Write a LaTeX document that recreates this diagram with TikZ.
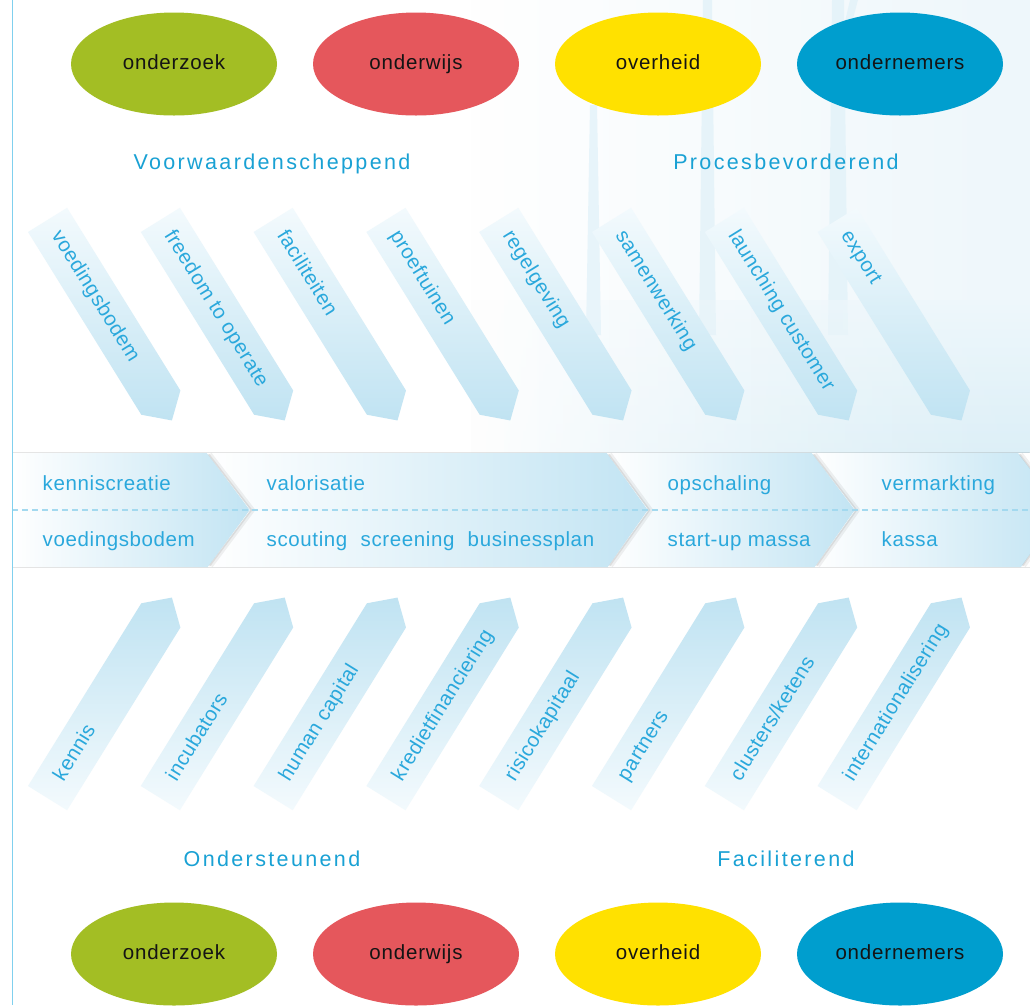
\documentclass[tikz,border=0pt]{standalone}
\usepackage{fontspec}
\setmainfont{Liberation Sans}
\newfontfamily\ellfont[LetterSpace=4]{Liberation Sans}
\newfontfamily\headfont[LetterSpace=11]{Liberation Sans}
\newfontfamily\bandfont[LetterSpace=3]{Liberation Sans}
\newfontfamily\arrfont[LetterSpace=2]{Liberation Sans}
\usetikzlibrary{calc,fadings,shapes.geometric}
\definecolor{ogreen}{HTML}{A3BE24}
\definecolor{ored}{HTML}{E5575C}
\definecolor{oyellow}{HTML}{FFE100}
\definecolor{oblue}{HTML}{009ECE}
\definecolor{headblue}{HTML}{19A1D4}
\definecolor{txtblue}{HTML}{2AA8DC}
\definecolor{arrlight}{HTML}{F3FAFD}
\definecolor{arrdark}{HTML}{C0E3F2}
\definecolor{segblue}{HTML}{C2E4F3}
\definecolor{dashblue}{HTML}{A3D9EF}
\definecolor{lineblue}{HTML}{80D0EE}
\definecolor{washblue}{HTML}{EEF7FB}
\definecolor{waterblue}{HTML}{DCEFF7}
\definecolor{towerblue}{HTML}{E2F2F9}
\tikzfading[name=fadein, left color=transparent!100, right color=transparent!0]
\begin{document}
\begin{tikzpicture}[x=1pt,y=1pt,
  ell/.style={ellipse, minimum width=206pt, minimum height=103pt, inner sep=0pt,
    text=black!92, font=\ellfont\fontsize{20.5}{24}\selectfont, text height=15pt, text depth=4pt},
  head/.style={text=headblue, font=\headfont\fontsize{21.5}{26}\selectfont, inner sep=0pt, anchor=base},
  toparr/.style={top color=arrlight, bottom color=arrdark},
  botarr/.style={top color=arrdark, bottom color=arrlight},
  arrtext/.style={text=txtblue, font=\arrfont\fontsize{20.5}{24}\selectfont, inner sep=0pt,
    anchor=west, text height=15pt, text depth=4.5pt},
  seg/.style={left color=white, right color=segblue},
  bandtext/.style={text=txtblue, font=\bandfont\fontsize{20.5}{24}\selectfont, inner sep=0pt, anchor=base west},
  chevshadow/.style={draw=black, opacity=0.06, line width=4pt, line join=round},
  chevshadowin/.style={draw=black, opacity=0.08, line width=1.5pt, line join=round},
  bandedge/.style={draw=black, opacity=0.10, line width=1.5pt},
  dashline/.style={draw=dashblue, line width=1.2pt, dash pattern=on 6pt off 4pt},
  leftline/.style={draw=lineblue, line width=1.5pt},
  tower/.style={fill=towerblue, opacity=0.8}
]
\useasboundingbox (0,0) rectangle (1030,-1005);
\fill[white] (0,0) rectangle (1030,-1005);

% background: faint wind park and water
\fill[washblue, path fading=fadein] (470,0) rectangle (1030,-452);
\fill[tower] (590,-105) -- (597,-105) -- (601,-335) -- (586,-335) -- cycle;
\fill[tower] (703,0) -- (712,0) -- (716,-335) -- (699,-335) -- cycle;
\fill[tower] (832,0) -- (844,0) -- (848,-335) -- (828,-335) -- cycle;
\fill[tower] (850,0) -- (858,0) -- (842,-60) -- (836,-60) -- cycle;
\shade[top color=washblue, bottom color=waterblue, path fading=fadein] (470,-300) rectangle (1030,-452);

% top ellipses
\node[ell, fill=ogreen]  (e1) at (174,-64) {onderzoek};
\node[ell, fill=ored]    (e2) at (416,-64) {onderwijs};
\node[ell, fill=oyellow] (e3) at (658,-64) {overheid};
\node[ell, fill=oblue]   (e4) at (900,-64) {ondernemers};

% headings
\node[head] (h1) at (272,-169) {Voorwaardenscheppend};
\node[head] (h2) at (786,-169) {Procesbevorderend};
\node[head] (h3) at (272,-866.5) {Ondersteunend};
\node[head] (h4) at (786,-866.5) {Faciliterend};

% top arrows
\foreach \i/\t in {0/voedingsbodem,1/freedom to operate,2/faciliteiten,3/proeftuinen,
                   4/regelgeving,5/samenwerking,6/launching customer,7/export}{
  \coordinate (o) at ({28+112.8*\i},-232);
  \shade[toparr] (o) -- ($(o)+(-58.2:215)$) -- ($(o)+(-58.2:236)+(31.8:23)$)
     -- ($(o)+(-58.2:215)+(31.8:46)$) -- ($(o)+(31.8:46)$) -- cycle;
  \node[arrtext, rotate=-58.2] (ta\i) at ($(o)+(-58.2:15)+(31.8:23)$) {\t};
}

% bottom arrows
\foreach \i/\t in {0/kennis,1/incubators,2/human capital,3/kredietfinanciering,
                   4/risicokapitaal,5/partners,6/clusters\slash ketens,7/internationalisering}{
  \coordinate (o) at ({28+112.8*\i},-786);
  \shade[botarr] (o) -- ($(o)+(58.2:215)$) -- ($(o)+(58.2:236)+(-31.8:23)$)
     -- ($(o)+(58.2:215)+(-31.8:46)$) -- ($(o)+(-31.8:46)$) -- cycle;
  \node[arrtext, rotate=58.2] (tb\i) at ($(o)+(58.2:22)+(-31.8:23)$) {\t};
}

% process band
\shade[seg] (12,-453) -- (207,-453) -- (250,-510) -- (208,-567) -- (12,-567) -- cycle;
\shade[seg] (207,-453) -- (607,-453) -- (648,-510) -- (608,-567) -- (208,-567) -- (250,-510) -- cycle;
\shade[seg] (607,-453) -- (812,-453) -- (855,-510) -- (815,-567) -- (608,-567) -- (648,-510) -- cycle;
\shade[seg] (812,-453) -- (1018,-453) -- (1061,-510) -- (1021,-567) -- (815,-567) -- (855,-510) -- cycle;
\foreach \a/\b/\c in {207/250/208, 607/648/608, 812/855/815, 1018/1061/1021}{
  \draw[chevshadow] (\a+3,-454) -- (\b+3,-510) -- (\c+3,-566);
  \draw[chevshadowin] (\a+1.5,-454) -- (\b+1.5,-510) -- (\c+1.5,-566);
}
\draw[bandedge] (12,-452.5) -- (1030,-452.5);
\draw[bandedge] (12,-567.5) -- (1030,-567.5);
\draw[dashline] (12,-510) -- (1030,-510);

\node[bandtext] (b1) at (42.5,-490.5) {kenniscreatie};
\node[bandtext] (b2) at (42.5,-546.5) {voedingsbodem};
\node[bandtext] (b3) at (266.5,-490.5) {valorisatie};
\node[bandtext] (b4) at (266.5,-546.5) {scouting\hspace{7pt} screening\hspace{7pt} businessplan};
\node[bandtext] (b5) at (667.5,-490.5) {opschaling};
\node[bandtext] (b6) at (667.5,-546.5) {start-up massa};
\node[bandtext] (b7) at (881.5,-490.5) {vermarkting};
\node[bandtext] (b8) at (881.5,-546.5) {kassa};

% bottom ellipses
\node[ell, fill=ogreen]  (f1) at (174,-954) {onderzoek};
\node[ell, fill=ored]    (f2) at (416,-954) {onderwijs};
\node[ell, fill=oyellow] (f3) at (658,-954) {overheid};
\node[ell, fill=oblue]   (f4) at (900,-954) {ondernemers};

% left rule
\draw[leftline] (12.5,0) -- (12.5,-1005);
\end{tikzpicture}
\end{document}
